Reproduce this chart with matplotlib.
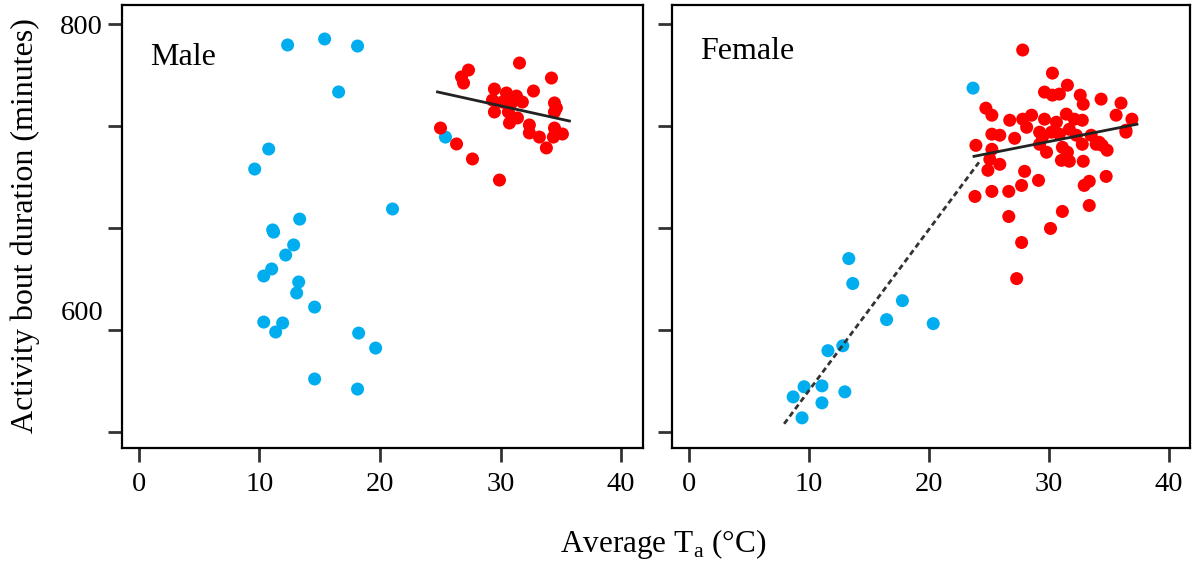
import matplotlib
matplotlib.use('Agg')
import matplotlib.pyplot as plt
import matplotlib.transforms as mtransforms

plt.rcParams['font.family'] = ['Liberation Serif', 'DejaVu Serif']
plt.rcParams['mathtext.fontset'] = 'custom'
plt.rcParams['mathtext.rm'] = 'Liberation Serif'

# Male, cool period (blue)
male_cool_ta = [12.34, 15.41, 18.14, 16.57, 10.77, 9.61, 21.04, 13.34, 11.10, 11.18,
                12.84, 12.18, 11.02, 10.36, 13.26, 13.09, 14.58, 10.36, 11.93, 11.35,
                18.23, 19.64, 14.58, 18.14, 25.43]
male_cool_dur = [786.3, 790.2, 785.6, 755.6, 718.3, 705.2, 679.1, 672.5, 665.4, 664.0,
                 655.6, 649.0, 639.9, 635.3, 631.4, 624.2, 615.0, 605.2, 604.6, 598.7,
                 598.0, 588.2, 568.0, 561.4, 726.1]

# Male, warm period (red)
male_warm_ta = [31.57, 27.34, 26.76, 26.93, 34.22, 32.73, 29.49, 30.49, 31.32, 31.81,
                29.33, 30.16, 30.90, 29.49, 30.65, 31.40, 30.74, 34.47, 34.63, 34.47,
                32.39, 32.39, 33.22, 34.47, 34.38, 35.13, 33.80, 25.02, 26.35, 27.67,
                29.91]
male_warm_dur = [774.5, 769.9, 765.4, 761.4, 764.7, 756.2, 757.5, 754.9, 752.9, 749.0,
                 750.3, 749.0, 748.4, 742.5, 742.5, 738.6, 735.3, 748.4, 745.1, 742.5,
                 734.0, 728.8, 726.1, 732.0, 726.1, 728.1, 719.0, 732.0, 721.6, 711.8,
                 698.0]

# Female, cool period (blue)
female_cool_ta = [23.70, 13.34, 13.67, 17.81, 16.49, 20.38, 12.84, 11.60, 9.61, 11.10,
                  13.01, 8.70, 11.10, 9.44]
female_cool_dur = [758.1, 646.7, 630.4, 619.2, 606.8, 604.2, 589.7, 586.5, 562.9, 563.5,
                   559.6, 556.3, 552.4, 542.6]

# Female, warm period (red)
female_warm_ta = [27.84, 30.32, 31.57, 29.66, 30.32, 30.90, 32.64, 32.89, 34.38, 36.04,
                  35.63, 36.95, 36.45, 24.77, 25.27, 26.76, 27.84, 28.58, 28.17, 29.66,
                  30.65, 31.48, 32.15, 32.81, 25.27, 25.93, 27.17, 29.25, 30.24, 30.90,
                  31.73, 32.31, 33.55, 34.22, 23.94, 25.27, 25.10, 24.94, 25.93, 28.00,
                  29.16, 27.75, 26.68, 25.27, 23.86, 26.68, 31.15, 30.16, 33.39, 32.97,
                  33.39, 34.80, 32.89, 27.75, 27.34, 29.25, 29.83, 29.49, 31.15, 31.57,
                  31.07, 31.73, 32.81, 33.97, 34.47, 34.88, 36.45]
female_warm_dur = [783.0, 767.9, 760.0, 755.5, 753.5, 754.2, 753.5, 747.6, 750.9, 748.3,
                   740.4, 737.8, 730.6, 745.0, 740.4, 737.1, 737.8, 740.4, 732.5, 737.8,
                   735.8, 741.1, 737.8, 737.1, 728.0, 727.3, 725.3, 729.3, 729.3, 728.0,
                   731.2, 727.3, 727.3, 722.7, 720.7, 718.1, 711.6, 704.4, 708.3, 703.7,
                   697.8, 694.5, 690.6, 690.6, 687.3, 674.2, 677.5, 666.4, 681.4, 694.5,
                   697.2, 700.4, 710.3, 657.2, 633.6, 721.4, 716.2, 726.0, 719.4, 716.2,
                   710.9, 710.3, 721.4, 721.4, 720.7, 717.5, 729.3]

# fitted lines (end points)
male_fit_x = [24.77, 35.71]
male_fit_y = [755.6, 736.6]
female_cool_fit_x = [7.95, 24.19]
female_cool_fit_y = [538.7, 709.6]
female_warm_fit_x = [23.78, 37.37]
female_warm_fit_y = [713.5, 734.5]

x_ticks = [0, 10, 20, 30, 40]
y_ticks = [800, 733.3, 666.7, 600, 533.3]
y_tick_labels = ['800', '', '', '600', '']

blue = '#00AEEF'
red = '#FF0000'

fig = plt.figure(figsize=(11.92, 5.65), dpi=100)
ax1 = fig.add_axes([0.1023, 0.2071, 0.437, 0.784])
ax2 = fig.add_axes([0.5638, 0.2071, 0.4346, 0.784])

panels = [
    (ax1, 'Male', 0.882, male_cool_ta, male_cool_dur, male_warm_ta, male_warm_dur),
    (ax2, 'Female', 0.895, female_cool_ta, female_cool_dur, female_warm_ta, female_warm_dur),
]

for ax, name, ty, cx, cy, wx, wy in panels:
    ax.scatter(cx, cy, s=88, color=blue, edgecolors='none', zorder=3)
    ax.scatter(wx, wy, s=88, color=red, edgecolors='none', zorder=3)
    ax.set_xlim(-1.4, 41.8)
    ax.set_ylim(522.9, 812.4)
    ax.set_xticks(x_ticks)
    ax.set_yticks(y_ticks)
    ax.tick_params(direction='out', length=10, width=2, color='#333333',
                   labelsize=20.5)
    ax.tick_params(axis='x', pad=7)
    for sp in ax.spines.values():
        sp.set_linewidth(1.6)
        sp.set_color('black')
    ax.text(0.055, ty, name, transform=ax.transAxes, fontsize=23,
            va='center', ha='left')

ax1.set_yticklabels(y_tick_labels)
ax2.set_yticklabels(['' for _ in y_ticks])

# the "600" label sits a little above its tick in the original
lab600 = ax1.get_yticklabels()[3]
lab600.set_transform(lab600.get_transform() +
                     mtransforms.ScaledTranslation(0, 20 / 100, fig.dpi_scale_trans))

ax1.plot(male_fit_x, male_fit_y, color='#222222', lw=2, zorder=4)
ax2.plot(female_cool_fit_x, female_cool_fit_y, color='#333333', lw=2,
         linestyle=(0, (2, 1.3)), zorder=4)
ax2.plot(female_warm_fit_x, female_warm_fit_y, color='#222222', lw=2, zorder=4)

fig.text(0.021, 0.6, 'Activity bout duration (minutes)', rotation=90,
         fontsize=23, va='center', ha='center')
fig.text(0.556, 0.038, r'Average T$_\mathrm{a}$ (°C)', fontsize=22.5,
         va='center', ha='center')

fig.savefig('out.png', dpi=100)
